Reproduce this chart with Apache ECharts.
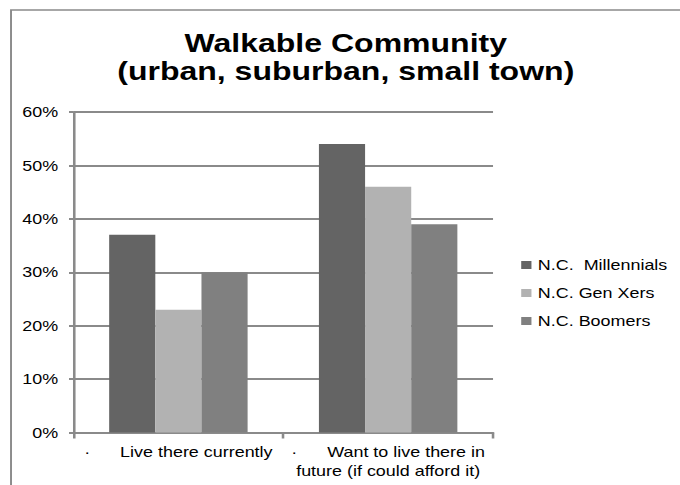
<!DOCTYPE html>
<html>
<head>
<meta charset="utf-8">
<script src="https://cdn.jsdelivr.net/npm/echarts@6/dist/echarts.min.js"></script>
<style>
  html, body { margin: 0; padding: 0; background: #fff; overflow: hidden; }
  #wrap { width: 680px; height: 485px; overflow: hidden; }
  /* the chart is laid out on a narrower canvas and widened horizontally */
  #chart { width: 531px; height: 485px; transform: scaleX(1.2806); transform-origin: 0 0; }
</style>
</head>
<body>
<div id="wrap"><div id="chart"></div></div>
<script>
// Share of respondents (%) who live / want to live in a walkable community
const categories = ['Live there currently', 'Want to live there in\nfuture (if could afford it)'];
const seriesNames = ['N.C.  Millennials', 'N.C. Gen Xers', 'N.C. Boomers'];
const millennials = [37, 54];
const genXers = [23, 46];
const boomers = [30, 39];
const yTicks = { min: 0, max: 60, interval: 10 };

const FONT = "'Liberation Sans', Arial, sans-serif";
const GRID_GRAY = '#8a8a8a';
const colors = ['#646464', '#b2b2b2', '#808080'];

const chart = echarts.init(document.getElementById('chart'), null, { renderer: 'svg' });

const values = [millennials, genXers, boomers];

chart.setOption({
  animation: false,
  textStyle: { fontFamily: FONT },
  color: colors,
  title: {
    text: 'Walkable Community\n(urban, suburban, small town)',
    left: 265,
    top: 24,
    textAlign: 'center',
    textStyle: { fontFamily: FONT, fontSize: 25, fontWeight: 'bold', color: '#000', lineHeight: 28 }
  },
  legend: {
    orient: 'vertical',
    left: 402,
    top: 252,
    itemWidth: 8,
    itemHeight: 8,
    itemGap: 12,
    icon: 'rect',
    textStyle: { fontFamily: FONT, fontSize: 14, color: '#000', lineHeight: 16 },
    data: seriesNames
  },
  grid: { left: 57.4, right: 146, top: 112, bottom: 52.5, containLabel: false },
  xAxis: {
    type: 'category',
    data: categories,
    axisLine: { lineStyle: { color: GRID_GRAY, width: 2 } },
    axisTick: { show: true, length: 6, lineStyle: { color: GRID_GRAY, width: 2 } },
    axisLabel: {
      interval: 0,
      margin: 10,
      fontFamily: FONT,
      fontSize: 14,
      lineHeight: 19,
      color: '#000',
      align: 'center',
      formatter: v => '·      ' + v
    }
  },
  yAxis: {
    type: 'value',
    min: yTicks.min,
    max: yTicks.max,
    interval: yTicks.interval,
    axisLine: { show: true, lineStyle: { color: GRID_GRAY, width: 2 } },
    axisTick: { show: true, length: 3.5, lineStyle: { color: GRID_GRAY, width: 2 } },
    splitLine: { show: true, lineStyle: { color: GRID_GRAY, width: 2 } },
    axisLabel: { fontFamily: FONT, fontSize: 14, color: '#000', margin: 12, formatter: '{value}%' }
  },
  graphic: [{
    type: 'rect',
    silent: true,
    z: -10,
    shape: { x: 8.6, y: 10, width: 700, height: 700 },
    style: { fill: 'none', stroke: GRID_GRAY, lineWidth: 1.5 }
  }],
  series: seriesNames.map((name, i) => ({
    name,
    type: 'bar',
    data: values[i],
    barGap: '0%',
    barCategoryGap: '34%'
  }))
});
</script>
</body>
</html>
